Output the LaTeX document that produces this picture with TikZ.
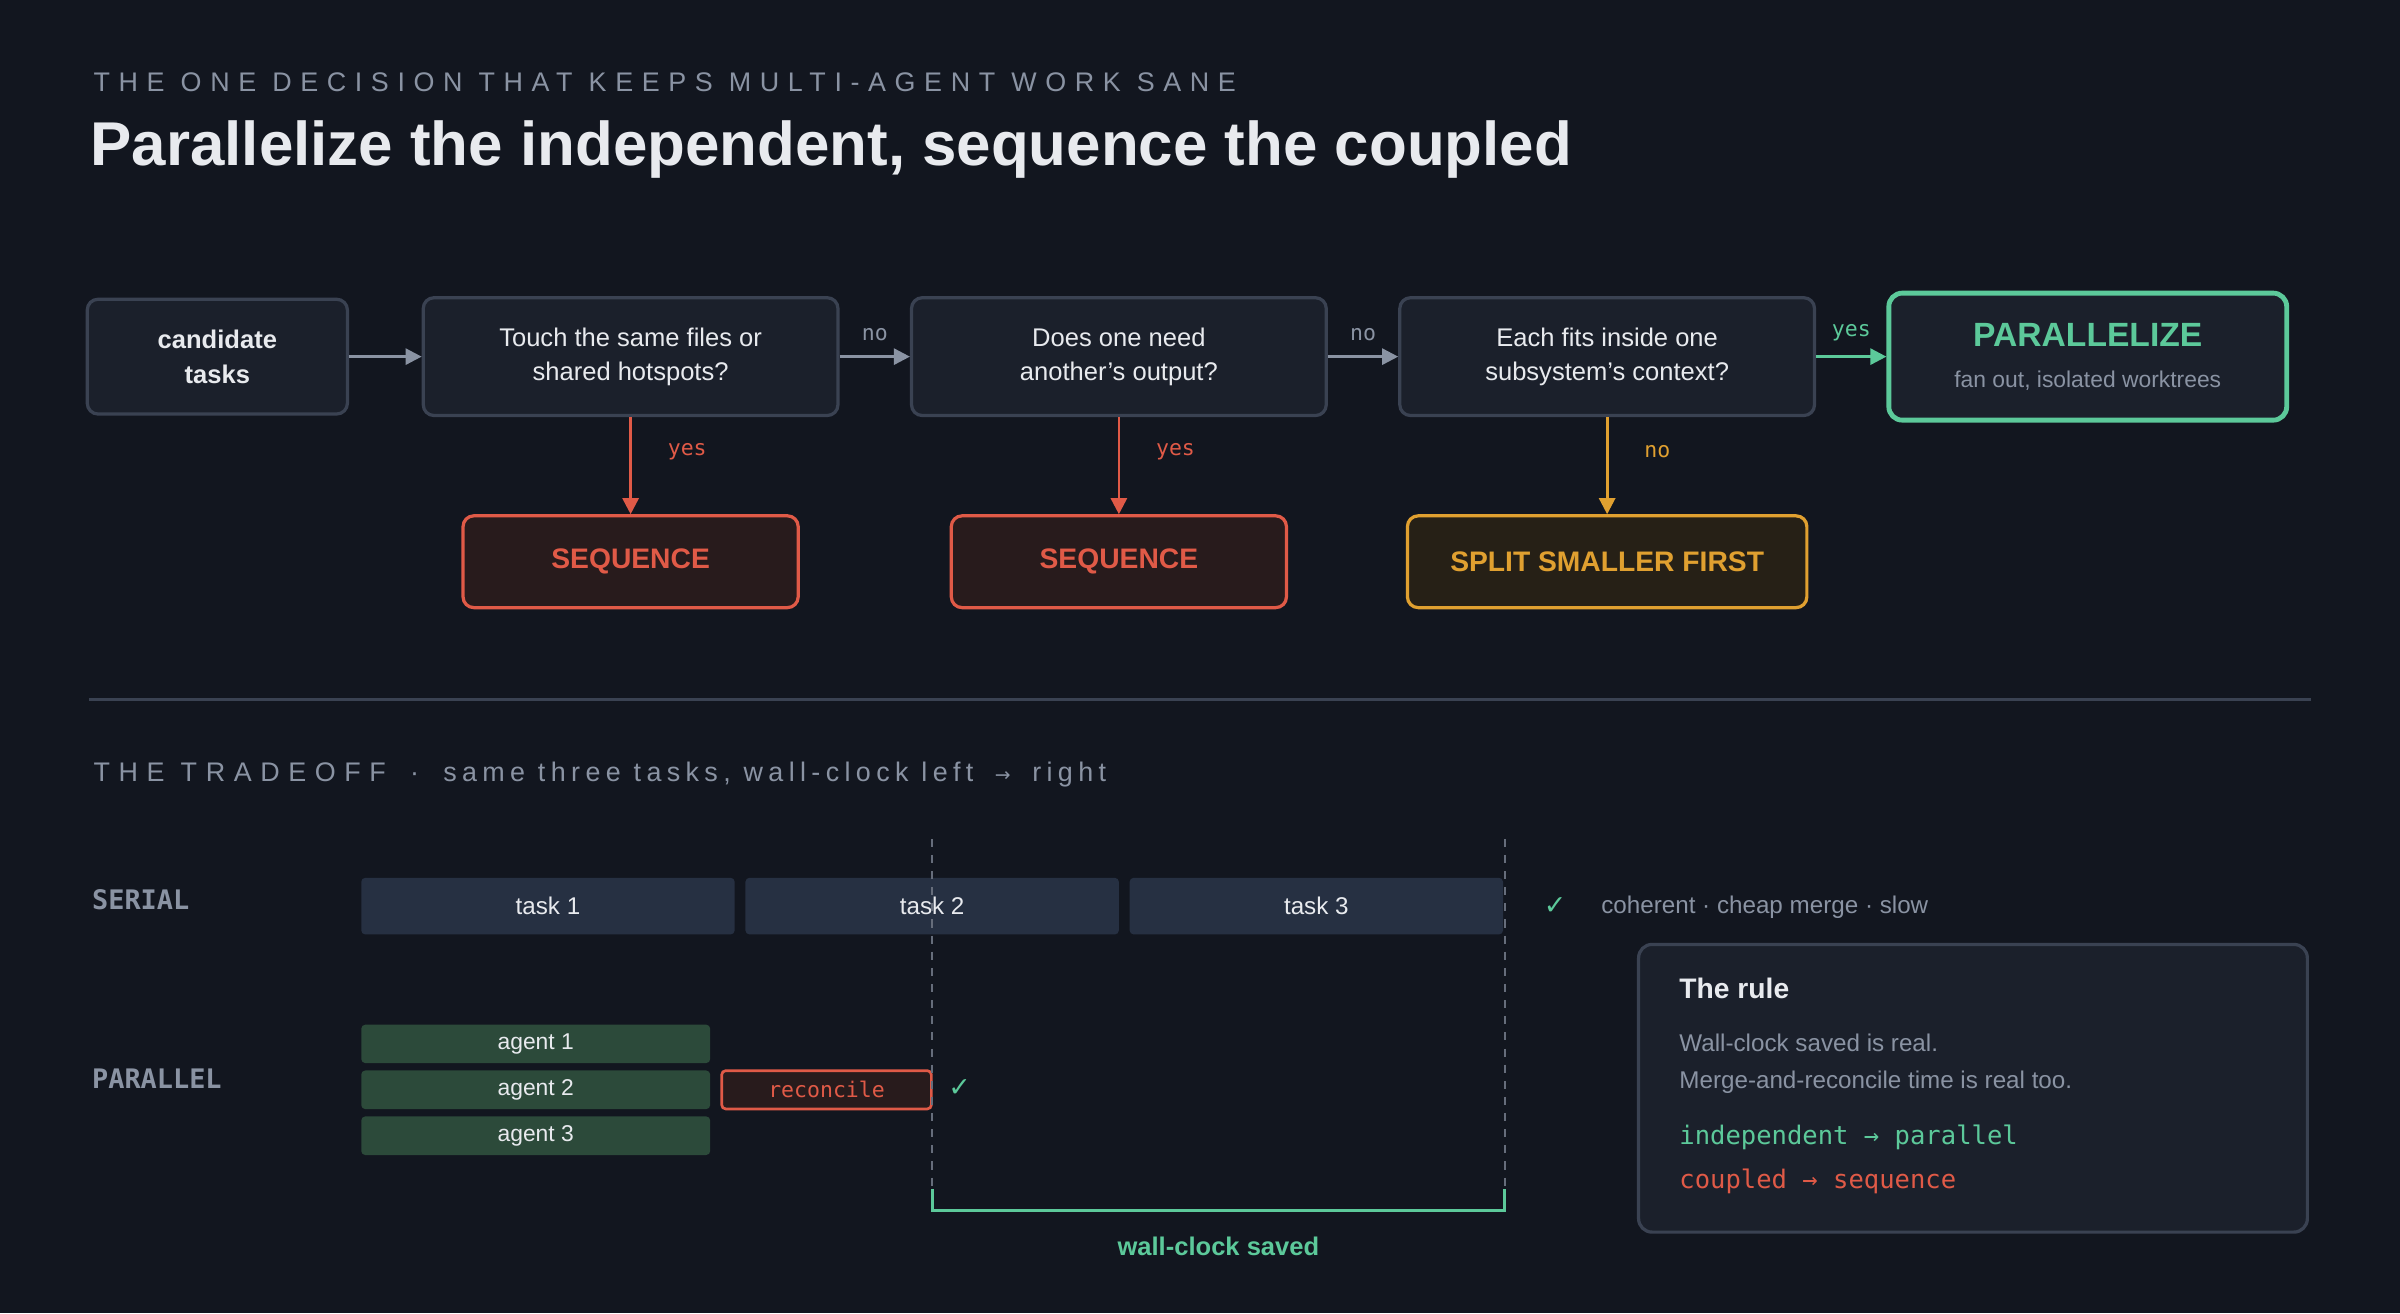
\documentclass[tikz,border=0pt]{standalone}
\usepackage{fontspec}
\setmainfont{Liberation Sans}
\setmonofont{DejaVu Sans Mono}
\newfontfamily\symfont{DejaVu Sans}
\usetikzlibrary{positioning,arrows.meta}
\definecolor{bg}{HTML}{12161F}
\definecolor{boxfill}{HTML}{1B202B}
\definecolor{boxline}{HTML}{3A4252}
\definecolor{txt}{HTML}{E8EAEE}
\definecolor{dim}{HTML}{8A93A3}
\definecolor{red}{HTML}{E05A47}
\definecolor{redfill}{HTML}{281B1C}
\definecolor{amber}{HTML}{E0A030}
\definecolor{amberfill}{HTML}{262016}
\definecolor{green}{HTML}{5CC99A}
\definecolor{bar}{HTML}{263042}
\definecolor{agentbar}{HTML}{2C4A3A}
\tikzset{
  decision/.style={draw=boxline,fill=boxfill,line width=1.2pt,rounded corners=4pt,
    minimum width=5.42cm,minimum height=1.54cm,text=txt,font=\fontsize{9.5}{12.5}\selectfont,align=center},
  outcome/.style={line width=1.2pt,rounded corners=4pt,minimum width=4.38cm,
    minimum height=1.2cm,font=\fontsize{10.5}{12}\selectfont\bfseries},
  flow/.style={-{Triangle[length=6pt,width=6pt]},line width=1pt,draw=dim},
  lbl/.style={font=\ttfamily\fontsize{8}{9}\selectfont},
  task/.style={fill=bar,rounded corners=1.5pt,minimum height=0.74cm,text=txt,font=\fontsize{9}{10}\selectfont},
  agent/.style={fill=agentbar,rounded corners=1.5pt,minimum width=4.56cm,minimum height=0.48cm,text=txt,font=\fontsize{8.5}{10}\selectfont},
  lane/.style={font=\ttfamily\bfseries\fontsize{10}{12}\selectfont,text=dim,anchor=west},
  tick/.style={text=green,font=\symfont\fontsize{10}{12}\selectfont},
}
\begin{document}
\begin{tikzpicture}[x=0.02cm,y=-0.02cm]
  \fill[bg] (0,0) rectangle (1568,858);
  % heading
  \node[anchor=west,text=dim,font=\fontsize{10}{12}\selectfont\addfontfeature{LetterSpace=32}] (kicker) at (55,54)
    {THE ONE DECISION THAT KEEPS MULTI-AGENT WORK SANE};
  \node[anchor=west,text=txt,font=\fontsize{23}{28}\selectfont\bfseries] (title) at (53,98)
    {Parallelize the independent, sequence the coupled};
  % decision chain
  \node[decision,minimum width=3.4cm,minimum height=1.5cm,font=\fontsize{9.5}{13}\selectfont\bfseries] (cand) at (142,233) {candidate\\tasks};
  \node[decision] (q1) at (412,233) {Touch the same files or\\shared hotspots?};
  \node[decision] (q2) at (731,233) {Does one need\\another's output?};
  \node[decision] (q3) at (1050,233) {Each fits inside one\\subsystem's context?};
  \node[draw=green,fill=boxfill,line width=1.8pt,rounded corners=5pt,minimum width=5.2cm,minimum height=1.66cm] (par) at (1364,233) {};
  \node[text=green,font=\fontsize{12.5}{14}\selectfont\bfseries] (parT) at (1364,219) {PARALLELIZE};
  \node[text=dim,font=\fontsize{8.5}{10}\selectfont] (parS) at (1364,249) {fan out, isolated worktrees};
  \node[outcome,draw=red,fill=redfill,text=red] (s1) at (412,367) {SEQUENCE};
  \node[outcome,draw=red,fill=redfill,text=red] (s2) at (731,367) {SEQUENCE};
  \node[outcome,draw=amber,fill=amberfill,text=amber,minimum width=5.22cm] (s3) at (1050,367) {SPLIT SMALLER FIRST};
  \draw[flow] (cand) -- (q1);
  \draw[flow] (q1) -- node[lbl,text=dim,above=2pt] {no} (q2);
  \draw[flow] (q2) -- node[lbl,text=dim,above=2pt] {no} (q3);
  \draw[flow,draw=green] (q3) -- node[lbl,text=green,above=2pt] {yes} (par);
  \draw[flow,draw=red] (q1) -- node[pos=0.36,lbl,text=red,right=10pt] {yes} (s1);
  \draw[flow,draw=red] (q2) -- node[pos=0.36,lbl,text=red,right=10pt] {yes} (s2);
  \draw[flow,draw=amber] (q3) -- node[pos=0.36,lbl,text=amber,right=10pt] {no} (s3);
  % divider
  \coordinate (divL) at (58,457);
  \coordinate (divR) at (1510,457);
  \draw[boxline,line width=0.8pt] (divL) -- (divR);
  \node[anchor=west,text=dim,font=\fontsize{10}{12}\selectfont] (trade) at (55,506)
    {{\addfontfeature{LetterSpace=32}THE TRADEOFF}\hspace{0.9em}·\hspace{0.9em}{\addfontfeature{LetterSpace=20}same three tasks, wall-clock left}\hspace{0.8em}{\symfont\fontsize{7}{8}\selectfont →}\hspace{0.8em}{\addfontfeature{LetterSpace=20}right}};
  % serial lane
  \node[lane] (serial) at (54,588) {SERIAL};
  \node[task,minimum width=4.88cm] (t1) at (358,592) {task 1};
  \node[task,minimum width=4.88cm] (t2) at (609,592) {task 2};
  \node[task,minimum width=4.88cm] (t3) at (860,592) {task 3};
  \node[tick] (ok1) at (1016,592) {✓};
  \node[anchor=west,text=dim,font=\fontsize{9}{10}\selectfont] (sNote) at (1040,593) {coherent · cheap merge · slow};
  % parallel lane
  \node[lane] (parallel) at (54,705) {PARALLEL};
  \node[agent] (a1) at (350,682) {agent 1};
  \node[agent] (a2) at (350,712) {agent 2};
  \node[agent] (a3) at (350,742) {agent 3};
  \node[draw=red,fill=redfill,line width=1pt,rounded corners=1.5pt,minimum width=2.74cm,minimum height=0.5cm,
    text=red,font=\ttfamily\fontsize{8}{9}\selectfont] (rec) at (540,712) {reconcile};
  \node[tick] (ok2) at (627,711) {✓};
  % wall-clock markers
  \coordinate (m1t) at (609,548);
  \coordinate (m1b) at (609,790);
  \coordinate (m2t) at (983,548);
  \coordinate (m2b) at (983,790);
  \draw[dim!70!bg,line width=0.7pt,dash pattern=on 3pt off 3pt] (m1t) -- (m1b);
  \draw[dim!70!bg,line width=0.7pt,dash pattern=on 3pt off 3pt] (m2t) -- (m2b);
  \draw[green,line width=1.1pt] (609,777) -- (609,791) -- (983,791) -- (983,777);
  \node[text=green,font=\fontsize{9.5}{11}\selectfont\bfseries] (saved) at (796,814) {wall-clock saved};
  % rule card
  \node[draw=boxline,fill=boxfill,line width=1.2pt,rounded corners=5pt,minimum width=8.74cm,minimum height=3.76cm] (card) at (1289,711) {};
  \node[anchor=west,text=txt,font=\fontsize{10.5}{12}\selectfont\bfseries] (cardT) at (1091,646) {The rule};
  \node[anchor=west,text=dim,font=\fontsize{9}{11}\selectfont] (cardA) at (1091,681) {Wall-clock saved is real.};
  \node[anchor=west,text=dim,font=\fontsize{9}{11}\selectfont] (cardB) at (1091,707) {Merge-and-reconcile time is real too.};
  \node[anchor=west,text=green,font=\ttfamily\fontsize{9.5}{11}\selectfont] (cardC) at (1091,743) {independent → parallel};
  \node[anchor=west,text=red,font=\ttfamily\fontsize{9.5}{11}\selectfont] (cardD) at (1091,772) {coupled → sequence};
\end{tikzpicture}
\end{document}
